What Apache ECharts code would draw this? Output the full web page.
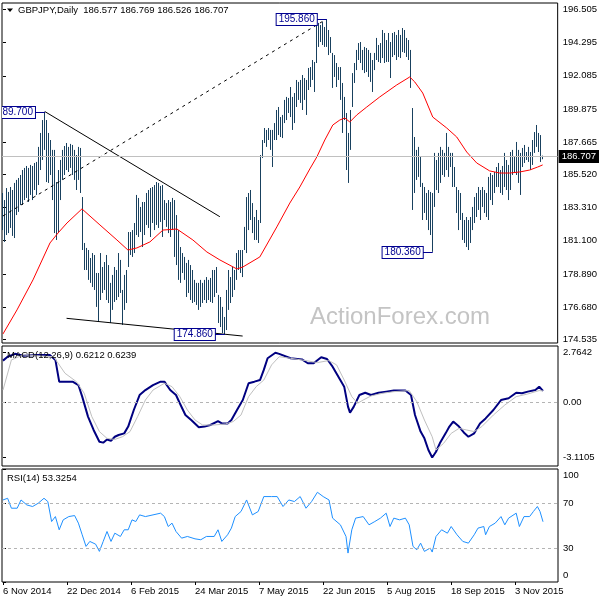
<!DOCTYPE html>
<html><head><meta charset="utf-8">
<script src="https://cdn.jsdelivr.net/npm/echarts@6/dist/echarts.min.js"></script>
<style>html,body{margin:0;padding:0;background:#fff}#c{width:600px;height:600px}</style>
</head><body><div id="c"></div>
<script>
// ---- data ----
const highs = [
184.28,183.81,184.61,184.35,184.68,184.48,184.95,185.15,185.28,185.48,
185.81,185.95,186.08,185.95,186.15,186.08,186.28,186.35,187.35,188.28,
189.14,189.70,189.14,188.28,187.81,187.15,187.15,185.01,185.81,186.48,
187.15,187.41,187.61,187.35,187.55,187.48,187.15,186.81,187.35,187.28,
184.01,180.95,180.62,180.48,179.95,180.28,180.15,178.95,178.95,180.28,
179.35,179.68,180.15,179.48,178.29,178.82,179.35,179.15,180.28,179.82,
177.82,178.82,179.15,181.68,181.68,181.81,182.28,184.15,183.95,183.35,
183.68,183.68,184.28,184.48,184.61,184.68,184.81,185.01,184.95,184.75,
184.81,183.81,183.61,183.81,183.68,183.95,183.81,182.81,181.81,180.68,
180.28,180.02,179.62,179.82,179.48,179.15,178.49,178.29,178.29,178.49,
178.29,178.49,178.68,178.49,178.62,179.15,179.15,179.35,177.49,177.35,
176.69,176.02,177.82,179.15,178.68,179.35,179.15,180.28,180.48,180.48,
180.48,182.02,184.01,184.28,184.48,183.61,182.68,183.15,182.48,186.81,
187.81,188.61,188.48,188.61,188.48,188.48,188.94,189.81,190.01,189.34,
189.48,190.48,190.68,190.61,191.34,190.68,190.94,191.81,191.68,191.81,
192.14,191.94,191.81,192.61,192.67,193.14,193.01,195.47,195.61,195.47,
195.67,195.34,195.86,195.14,194.67,193.61,193.47,192.94,192.67,192.67,
191.61,190.68,189.61,188.28,189.81,192.27,192.94,193.81,194.27,194.34,
193.81,194.01,193.94,193.81,193.61,193.14,193.61,194.61,194.14,194.27,
195.14,194.94,194.47,194.94,194.34,194.94,195.01,194.81,195.14,194.81,
195.27,195.14,194.61,194.47,193.81,189.94,188.01,187.15,187.35,186.68,
184.95,184.68,184.28,184.48,184.35,184.28,186.95,186.48,186.95,187.35,
187.15,186.95,188.28,187.35,186.95,186.95,186.01,184.68,184.48,184.28,
182.95,182.48,182.68,182.48,182.68,183.35,184.01,184.28,184.68,184.48,
184.68,184.48,184.28,185.35,185.61,185.48,185.68,186.01,186.28,185.81,
186.08,186.95,186.48,186.15,187.01,187.15,186.68,187.68,187.15,186.95,
187.28,187.48,187.01,187.35,187.01,187.81,188.34,188.81,188.28,188.14,
186.77];
const lows = [
181.81,181.02,181.48,181.61,181.95,181.42,181.28,182.81,183.02,183.48,
183.48,183.81,183.95,183.68,184.15,183.81,184.48,184.15,184.81,185.81,
186.48,187.15,185.01,184.95,185.48,183.81,181.61,181.15,181.61,183.81,
185.15,185.48,185.81,185.68,185.95,185.48,185.15,184.48,185.15,184.28,
180.48,179.15,179.15,178.49,178.29,178.02,177.82,176.69,175.69,177.15,
177.62,177.82,177.15,176.95,175.62,176.49,177.02,177.15,177.35,177.62,
175.49,176.49,176.95,179.35,180.15,180.02,180.28,181.48,181.35,181.68,
180.68,181.48,182.15,181.95,181.35,182.28,181.81,182.15,181.95,182.35,
181.35,182.48,182.02,181.61,181.35,181.81,180.02,179.48,178.49,178.29,
178.95,178.49,177.35,177.62,177.15,176.95,177.02,176.82,176.49,176.69,
176.95,177.15,176.95,177.15,177.02,176.95,177.35,177.62,175.62,175.35,
174.95,174.86,175.15,176.49,176.95,177.35,177.82,178.49,179.15,178.95,
178.68,180.48,180.28,181.81,182.48,181.61,181.15,181.15,180.95,182.28,
186.61,187.61,187.35,187.81,187.15,186.01,187.81,187.81,188.14,188.01,
187.94,188.94,189.14,189.61,189.34,188.48,188.94,190.01,190.48,190.28,
189.81,190.48,189.48,191.14,191.34,191.81,191.01,192.94,194.01,194.34,
194.14,194.01,194.01,193.47,193.61,191.28,192.01,191.34,191.81,190.48,
188.28,189.14,185.81,184.95,187.15,190.01,191.61,192.47,193.14,192.94,
192.47,192.27,192.34,192.01,191.68,191.01,192.47,193.14,193.01,192.94,
193.27,192.94,193.01,193.01,191.94,193.34,193.47,193.14,193.34,193.27,
193.67,193.61,193.34,193.14,191.28,183.15,184.28,185.15,185.35,184.68,
182.48,182.95,182.48,181.81,181.48,180.36,183.35,184.48,184.28,184.95,
185.48,185.35,185.81,185.35,186.01,184.68,184.68,182.95,181.81,182.48,
181.15,180.95,180.68,180.48,180.95,181.81,182.28,182.68,183.15,182.48,
183.35,182.95,182.68,182.48,183.81,183.48,184.28,184.68,184.68,184.28,
184.15,184.68,184.48,183.81,184.48,185.48,185.61,185.48,184.95,184.15,
186.01,186.28,186.48,186.35,185.81,186.15,186.95,187.35,187.01,186.35,
186.53];
const maPoints = [[0,174.89],[7,176.49],[15,178.49],[23.5,180.95],[27.5,181.61],[32,182.28],[39.5,183.22],[48.5,182.15],[57,181.15],[62.5,180.48],[67,180.62],[73.5,181.02],[80,181.81],[87,181.88],[95,181.15],[102,180.35],[108.5,179.82],[117,179.22],[120,179.35],[128.5,180.02],[137,182.02],[143.5,183.61],[148.5,184.68],[153.5,185.88],[157,186.68],[161,187.81],[165,188.81],[168.5,189.14],[171,189.28],[173.5,189.01],[177,189.48],[182,190.01],[188.5,190.68],[197,191.48],[203.5,192.01],[206,191.68],[210,190.94],[215,189.34],[222,188.61],[227,188.01],[232,187.01],[237,186.28],[243.5,185.75],[248.5,185.61],[253.5,185.61],[258.5,185.68],[263.5,185.81],[267.5,186.01],[270,186.15]];
const macdMain = [[0,2.32],[2.3,2.54],[6.1,2.70],[10,2.60],[17.6,2.64],[23.4,2.64],[26.2,2.36],[28.1,1.14],[31,1.14],[34.8,1.14],[37.7,0.95],[39.6,0.30],[42.5,-0.82],[45.3,-1.57],[48.2,-2.23],[50.1,-2.28],[52,-2.10],[54,-2.17],[55.9,-1.95],[57.8,-1.85],[60.6,-1.76],[62.6,-1.38],[65.4,-0.45],[68.3,0.39],[71.2,0.67],[75,0.95],[78.8,1.14],[80.7,1.14],[83.6,0.67],[86.5,0.39],[88.4,-0.07],[91.2,-0.73],[94.1,-1.01],[97.9,-1.42],[100.8,-1.38],[103.7,-1.29],[107.5,-1.07],[109.4,-1.20],[112.3,-1.20],[114.2,-1.01],[117,-0.45],[119.9,0.11],[122.8,1.05],[125.7,1.14],[128.5,1.23],[130.4,1.80],[132.3,2.45],[136.2,2.76],[138.1,2.70],[143.8,2.45],[149.5,2.39],[152.4,2.17],[155.3,2.17],[159.1,2.51],[162,2.41],[164.8,1.98],[167.7,1.42],[170.6,0.86],[172.5,-0.26],[173.5,-0.60],[175.4,-0.26],[178.2,0.39],[181.1,0.52],[184,0.39],[187.8,0.52],[191.6,0.58],[195.4,0.64],[201.2,0.64],[204,0.39],[206,-0.73],[208.8,-1.66],[210.7,-2.04],[212.7,-2.69],[214.6,-3.11],[216.5,-2.79],[218.4,-2.32],[221.3,-1.76],[223.2,-1.38],[225.1,-1.10],[228,-1.38],[230.8,-1.76],[232.7,-1.95],[235.6,-1.76],[238.5,-1.20],[241.3,-0.92],[245.2,-0.45],[249,0.11],[252.8,0.21],[256.6,0.52],[259.5,0.49],[262.4,0.58],[266.2,0.67],[268.1,0.86],[270,0.62]];
const macdSignal = [[0,0.67],[4.2,2.36],[10,2.64],[25.3,2.54],[31,1.61],[36.7,1.14],[40.6,0.49],[44.4,-0.82],[48.2,-1.66],[52,-2.04],[55.9,-2.10],[59.7,-1.95],[63.5,-1.66],[67.3,-0.82],[71.2,0.11],[75,0.67],[80.7,1.05],[84.5,0.86],[88.4,0.30],[92.2,-0.45],[96,-1.01],[99.8,-1.29],[105.6,-1.29],[111.3,-1.23],[115.1,-1.10],[119,-0.73],[122.8,0.30],[126.6,0.86],[130.4,1.23],[134.3,2.08],[138.1,2.54],[143.8,2.45],[151.5,2.32],[157.2,2.21],[162.9,2.32],[166.8,2.08],[170.6,1.23],[174.4,0.30],[177.3,-0.07],[180.1,0.11],[184,0.34],[189.7,0.49],[195.4,0.58],[203.1,0.64],[206.9,0.02],[210.7,-1.01],[214.6,-1.95],[216.5,-2.69],[220.3,-2.32],[224.1,-1.76],[228,-1.48],[231.8,-1.57],[235.6,-1.66],[239.4,-1.38],[245.2,-0.73],[250.9,-0.17],[256.6,0.30],[262.4,0.45],[268.1,0.64],[270,0.62]];
const rsiPoints = [[0,72.6],[2.3,74.1],[4.2,65.3],[7.1,65.3],[9,72.6],[11.9,68.2],[14.8,66.8],[17.6,69.7],[20.5,74.1],[22.4,71.2],[24.3,53.5],[26.2,57.9],[28.1,46.2],[30.1,55],[32.9,57.9],[35.8,58.8],[37.7,52.1],[39.6,41.8],[41.5,31.5],[43.4,35.9],[46.3,33.5],[48.2,27.1],[50.1,35.9],[52,44.7],[54,35.9],[55.9,43.2],[58.7,40.3],[60.6,46.2],[62.6,46.2],[64.5,55],[66.4,53.5],[68.3,59.4],[71.2,57.9],[75,59.4],[78.8,60.9],[80.7,57.9],[82.6,49.1],[84.5,52.1],[86.5,44.7],[89.3,38.8],[92.2,40.3],[96,38.2],[98.9,37.4],[101.7,40.3],[105.6,40.3],[107.5,46.2],[109.4,35.9],[112.3,41.8],[114.2,47.7],[116.1,57.9],[119,62.4],[121.8,72.6],[124.7,59.4],[127.6,62.4],[130.4,75.6],[134.3,75.6],[137.1,75.6],[140,66.8],[142.9,72.6],[145.7,71.2],[148.6,75.6],[151.5,65.3],[154.3,71.2],[157.2,79.4],[160.1,75.6],[163,72.6],[164.8,56.5],[168.7,50.6],[171.5,40.3],[172.5,25.6],[174.4,46.2],[176.3,56.5],[180.1,57.9],[183,50.6],[185.9,53.5],[188.7,56.5],[191.6,60.9],[193.5,49.1],[195.4,56.5],[198.3,55],[201.2,56.5],[203.1,50.6],[205,31.5],[206.9,28.5],[208.8,34.4],[210.7,27.1],[213.6,30],[214.6,26.5],[216.5,40.3],[219.3,46.2],[222.2,43.2],[224.1,49.1],[227,41.8],[229.9,35.9],[232.7,34.4],[235.6,41.8],[237.5,47.7],[240.4,49.1],[241.3,41.8],[243.2,49.1],[246.1,52.1],[249,57.9],[250.9,50.6],[252.8,56.5],[256.6,60.9],[258.2,49.1],[260.5,57.9],[263.3,57.9],[265.2,62.4],[267.2,66.8],[268.5,62.4],[270,53.33]];
const dateLabels = ['6 Nov 2014','22 Dec 2014','6 Feb 2015','24 Mar 2015','7 May 2015','22 Jun 2015','5 Aug 2015','18 Sep 2015','3 Nov 2015'];
const dateIndex = [0,32,64,96,128,160,192,224,256];
const priceTicks = [196.505,194.295,192.085,189.875,187.665,185.520,183.310,181.100,178.890,176.680,174.535];
const macdTicks = [2.7642,0,-3.1105];
const rsiTicks = [100,70,30,0];
const rsiLevels = [70,30];
const lastPrice = 186.707;
const headerText = 'GBPJPY,Daily  186.577 186.769 186.526 186.707';
const macdTitle = 'MACD(12,26,9) 0.6212 0.6239';
const rsiTitle = 'RSI(14) 53.3254';
const pivotIndex = [21,162,111,215];
const pivotPrice = [189.70,195.86,174.86,180.36];
const pivotText = ['189.700','195.860','174.860','180.360'];
const trendUpper = [[21,189.70],[108.5,182.70]];
const trendLower = [[31.8,175.93],[119.9,174.75]];
const trendDotted = [[0,182.75],[160,195.72]];

// ---- rendering ----
const FONT = 'Liberation Sans';
const FS = 9.5;
const BAR = '#19415f';
const NAVY = '#000090';
const GAP = 10;
const chart = echarts.init(document.getElementById('c'), null, {renderer:'canvas', width:600, height:600, devicePixelRatio:1});

const gridBase = {left:2, width:556, show:true, borderColor:'#000', borderWidth:1, backgroundColor:'#fff'};
const xBase = {type:'value', min:-0.5, max:277.5, axisLine:{show:false}, axisTick:{show:false}, axisLabel:{show:false}, splitLine:{show:false}};
const yBase = {type:'value', position:'right', axisLine:{show:false}, splitLine:{show:false}};
const tickStyle = {show:true, length:3, lineStyle:{color:'#000', width:1}};
const labStyle = {color:'#000', fontSize:FS, fontFamily:FONT, margin:5};

const option = {
  animation:false,
  backgroundColor:'#fff',
  grid:[
    Object.assign({top:3, height:340}, gridBase),
    Object.assign({top:346, height:120}, gridBase),
    Object.assign({top:469, height:113}, gridBase)
  ],
  xAxis:[
    Object.assign({gridIndex:0}, xBase),
    Object.assign({gridIndex:1}, xBase),
    Object.assign({}, xBase, {gridIndex:2,
      axisTick:{show:true, length:3, customValues:dateIndex, lineStyle:{color:'#000'}},
      axisLabel:{show:true, customValues:dateIndex, align:'left', margin:4, color:'#000', fontSize:FS, fontFamily:FONT,
        formatter:v => dateLabels[dateIndex.indexOf(v)] || ''}})
  ],
  yAxis:[
    Object.assign({}, yBase, {gridIndex:0, min:174.286, max:196.938,
      axisTick:Object.assign({customValues:priceTicks}, tickStyle),
      axisLabel:Object.assign({customValues:priceTicks, formatter:v => v.toFixed(3)}, labStyle)}),
    Object.assign({}, yBase, {gridIndex:1, min:-3.59, max:3.14,
      axisTick:Object.assign({customValues:macdTicks}, tickStyle),
      axisLabel:Object.assign({customValues:macdTicks, formatter:v => v === 0 ? '0.00' : v.toFixed(4)}, labStyle)}),
    Object.assign({}, yBase, {gridIndex:2, min:0, max:100,
      axisTick:Object.assign({customValues:rsiTicks}, tickStyle),
      axisLabel:Object.assign({customValues:rsiTicks,
        formatter:v => v === 100 ? '{t|100}' : (v === 0 ? '{b|0}' : String(v)),
        rich:{t:{padding:[13,0,0,0], fontSize:FS, fontFamily:FONT, color:'#000'}, b:{padding:[0,0,13,0], fontSize:FS, fontFamily:FONT, color:'#000'}}}, labStyle)})
  ],
  series:[
    {type:'line', xAxisIndex:0, yAxisIndex:0, data:[], silent:true, z:1,
      markLine:{silent:true, symbol:['none','none'], animation:false,
        lineStyle:{color:'#c0c0c0', type:'solid', width:1},
        label:{show:true, position:'end', distance:1, formatter:lastPrice.toFixed(3), backgroundColor:'#000', color:'#fff', padding:[2,3,1,3], fontSize:FS, fontFamily:FONT},
        data:[{yAxis:lastPrice}]}},
    {type:'custom', xAxisIndex:0, yAxisIndex:0, z:2, silent:true,
      data: highs.map((h,i) => [i, lows[i], h]),
      renderItem:(params, api) => {
        const lo = api.coord([api.value(0), api.value(1)]);
        const hi = api.coord([api.value(0), api.value(2)]);
        const x = Math.floor(lo[0]) + 0.5;
        return {type:'line', shape:{x1:x, y1:lo[1], x2:x, y2:hi[1]}, style:{stroke:BAR, lineWidth:1}};
      }},
    {type:'line', xAxisIndex:0, yAxisIndex:0, z:3, data:maPoints, showSymbol:false, silent:true, lineStyle:{color:'#ff0000', width:1}},
    {type:'line', xAxisIndex:0, yAxisIndex:0, z:3, data:trendUpper, showSymbol:false, silent:true, lineStyle:{color:'#000', width:1}},
    {type:'line', xAxisIndex:0, yAxisIndex:0, z:3, data:trendLower, showSymbol:false, silent:true, lineStyle:{color:'#000', width:1}},
    {type:'line', xAxisIndex:0, yAxisIndex:0, z:3, data:trendDotted, showSymbol:false, silent:true, lineStyle:{color:'#000', width:1, type:[3,4]}},
    {type:'custom', xAxisIndex:0, yAxisIndex:0, z:4, silent:true, clip:true,
      data: pivotIndex.map((x,k) => [x, pivotPrice[k]]),
      renderItem:(params, api) => {
        const p = api.coord([api.value(0), api.value(1)]);
        const y = Math.round(p[1]) + 0.5;
        return {type:'group', children:[
          {type:'line', shape:{x1:p[0]-GAP, y1:y, x2:p[0], y2:y}, style:{stroke:NAVY, lineWidth:1}},
          {type:'text', x:p[0]-GAP, y:y, style:{text:pivotText[params.dataIndex], align:'right', verticalAlign:'middle',
            fill:NAVY, fontSize:FS+0.5, fontFamily:FONT, backgroundColor:'#fff', borderColor:NAVY, borderWidth:1, padding:[1,2,0,2]}}
        ]};
      }},
    {type:'line', xAxisIndex:1, yAxisIndex:1, data:macdMain, showSymbol:false, silent:true, z:3, lineStyle:{color:'#000080', width:2},
      markLine:{silent:true, symbol:['none','none'], animation:false, label:{show:false},
        lineStyle:{color:'#b4b4b4', type:[3,3], width:1}, data:[{yAxis:0}]}},
    {type:'line', xAxisIndex:1, yAxisIndex:1, data:macdSignal, showSymbol:false, silent:true, z:4, lineStyle:{color:'#c0c0c0', width:1}},
    {type:'line', xAxisIndex:2, yAxisIndex:2, data:rsiPoints, showSymbol:false, silent:true, z:3, lineStyle:{color:'#1e90ff', width:1},
      markLine:{silent:true, symbol:['none','none'], animation:false, label:{show:false},
        lineStyle:{color:'#b4b4b4', type:[3,3], width:1}, data:rsiLevels.map(v => ({yAxis:v}))}}
  ],
  graphic:[
    {type:'polygon', shape:{points:[[7,8.5],[13,8.5],[10,12]]}, style:{fill:'#000'}, silent:true},
    {type:'text', x:18, y:10.5, style:{text:headerText, fill:'#000', fontSize:FS, fontFamily:FONT, verticalAlign:'middle'}, silent:true},
    {type:'text', x:7, y:355, style:{text:macdTitle, fill:'#000', fontSize:FS, fontFamily:FONT, verticalAlign:'middle'}, silent:true, z:10},
    {type:'text', x:7, y:478, style:{text:rsiTitle, fill:'#000', fontSize:FS, fontFamily:FONT, verticalAlign:'middle'}, silent:true},
    {type:'text', x:310, y:317, style:{text:'ActionForex.com', fill:'#c4c4c4', fontSize:24, fontFamily:FONT, verticalAlign:'middle'}, silent:true}
  ]
};
chart.setOption(option);
</script>
</body></html>
